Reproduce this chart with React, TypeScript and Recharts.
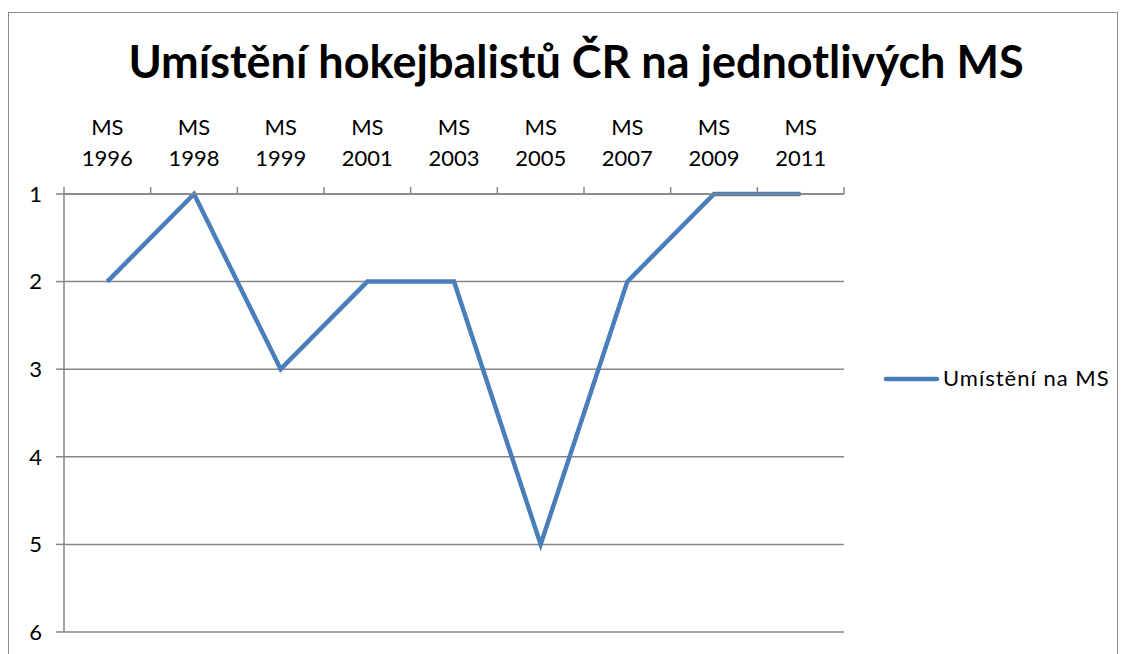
import { LineChart, Line, XAxis, YAxis, CartesianGrid } from 'recharts';

const categories = [
  'MS 1996',
  'MS 1998',
  'MS 1999',
  'MS 2001',
  'MS 2003',
  'MS 2005',
  'MS 2007',
  'MS 2009',
  'MS 2011',
];
const placements = [2, 1, 3, 2, 2, 5, 2, 1, 1];
const yTicks = [1, 2, 3, 4, 5, 6];
const seriesName = 'Umístění na MS';
const title = 'Umístění hokejbalistů ČR na jednotlivých MS';

const data = categories.map((name, i) => ({ name, value: placements[i] }));

const FONT = 'Lato, "Noto Sans", sans-serif';
const AXIS = '#868686';
const LINE = '#4A7EBB';

// plot box in page pixels
const W = 1130;
const H = 654;
const PLOT_LEFT = 64;
const PLOT_TOP = 194;
const PLOT_RIGHT = 844;
const PLOT_BOTTOM = 632;
const X_AXIS_H = 100;
const Y_AXIS_W = 60;
const BAND = (PLOT_RIGHT - PLOT_LEFT) / categories.length;

function CategoryTick({ x, payload, index }: any) {
  const [l1, l2] = String(payload.value).split(' ');
  const left = x - BAND / 2;
  return (
    <g>
      <line x1={left} x2={left} y1={PLOT_TOP - 7} y2={PLOT_TOP} stroke={AXIS} strokeWidth={1.5} />
      {index === categories.length - 1 && (
        <line x1={x + BAND / 2} x2={x + BAND / 2} y1={PLOT_TOP - 7} y2={PLOT_TOP} stroke={AXIS} strokeWidth={1.5} />
      )}
      <text x={x} y={PLOT_TOP - 59} textAnchor="middle" fontSize={22} fill="#000" fontFamily={FONT}>
        {l1}
      </text>
      <text x={x} y={PLOT_TOP - 28} textAnchor="middle" fontSize={22} fill="#000" fontFamily={FONT}>
        {l2}
      </text>
    </g>
  );
}

export default function App() {
  return (
    <div style={{ position: 'absolute', left: 0, top: 0, width: W, height: H, overflow: 'hidden', background: '#fff' }}>
      <div
        style={{
          position: 'absolute',
          left: 8,
          top: 12,
          width: 1108,
          height: 700,
          border: '1px solid #8c8c8c',
        }}
      />
      <div style={{ position: 'absolute', left: 0, top: 0 }}>
        <LineChart
          width={W}
          height={H}
          data={data}
          margin={{
            top: PLOT_TOP - X_AXIS_H,
            left: PLOT_LEFT - Y_AXIS_W,
            right: W - PLOT_RIGHT,
            bottom: H - PLOT_BOTTOM,
          }}
        >
          <CartesianGrid vertical={false} stroke={AXIS} strokeWidth={1.5} />
          <XAxis
            dataKey="name"
            orientation="top"
            height={X_AXIS_H}
            interval={0}
            padding={{ left: BAND / 2, right: BAND / 2 }}
            tickLine={false}
            axisLine={{ stroke: AXIS, strokeWidth: 1.5 }}
            tick={<CategoryTick />}
          />
          <YAxis
            reversed
            domain={[1, 6]}
            ticks={yTicks}
            width={Y_AXIS_W}
            tickSize={8}
            tickMargin={14}
            tickLine={{ stroke: AXIS, strokeWidth: 1.5 }}
            axisLine={{ stroke: AXIS, strokeWidth: 1.5 }}
            tick={{ fontSize: 22, fill: '#000', fontFamily: FONT }}
          />
          <Line
            type="linear"
            dataKey="value"
            name={seriesName}
            stroke={LINE}
            strokeWidth={4.5}
            dot={false}
            isAnimationActive={false}
          />
        </LineChart>
      </div>
      <svg width={W} height={H} style={{ position: 'absolute', left: 0, top: 0, pointerEvents: 'none' }}>
        <text x={576} y={78} textAnchor="middle" fontSize={45} fontWeight="bold" fill="#000" fontFamily={FONT}>
          {title}
        </text>
        <line x1={886} x2={937} y1={379} y2={379} stroke={LINE} strokeWidth={4.5} strokeLinecap="round" />
        <text x={943} y={386} fontSize={22} letterSpacing={1} fill="#000" fontFamily={FONT}>
          {seriesName}
        </text>
      </svg>
    </div>
  );
}
